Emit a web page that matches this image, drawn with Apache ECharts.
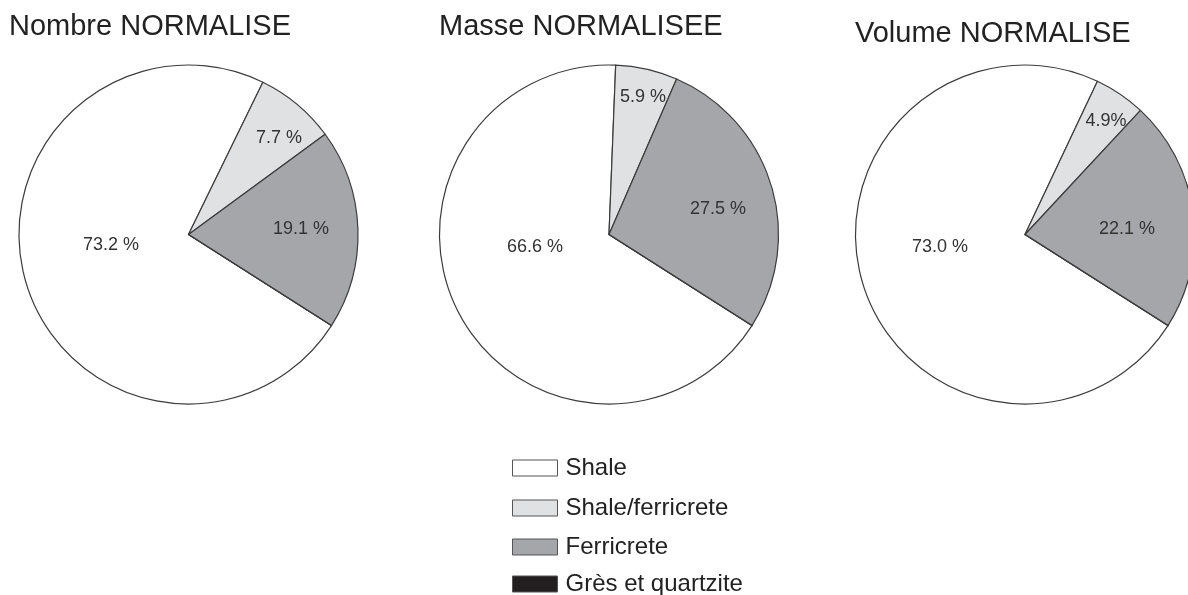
<!DOCTYPE html>
<html>
<head>
<meta charset="utf-8">
<script src="https://cdn.jsdelivr.net/npm/echarts@6/dist/echarts.min.js"></script>
<style>
html,body{margin:0;padding:0;background:#fff;}
#chart{width:1188px;height:595px;}
</style>
</head>
<body>
<div id="chart"></div>
<script>
// ---- data ----
const categories = ['Shale', 'Shale/ferricrete', 'Ferricrete', 'Grès et quartzite'];
const nombreValues = [73.2, 7.7, 19.1, 0];
const masseValues  = [66.6, 5.9, 27.5, 0];
const volumeValues = [73.0, 4.9, 22.1, 0];
const titles = ['Nombre NORMALISE', 'Masse NORMALISEE', 'Volume NORMALISE'];
const labelSeparators = [[' ', ' ', ' '], [' ', ' ', ' '], [' ', '', ' ']];

// ---- layout / style (not data) ----
const colors = ['#ffffff', '#e0e1e3', '#a4a6a9', '#231f20'];
const pieCenters = [[188.5, 234.5], [609, 234.5], [1025, 234.5]];
const pieRadius = 169.5;
const titlePos = [[9, 12], [439, 12], [855, 19]];
const legendTops = [456, 496, 535, 572];
// label offsets from pie centre (px)
const labelOffsets = [
  [[-77.5, 11], [90.5, -96.5], [112.5, -5]],
  [[-74, 12.5], [34, -137.5], [109, -25.5]],
  [[-85, 12.5], [81, -113.5], [102, -5]]
];

const seriesValues = [nombreValues, masseValues, volumeValues];

const chart = echarts.init(document.getElementById('chart'), null, {renderer: 'canvas'});

const series = seriesValues.map((vals, si) => ({
  type: 'pie',
  silent: true,
  animation: false,
  center: pieCenters[si],
  radius: pieRadius,
  startAngle: -32.5,
  clockwise: true,
  avoidLabelOverlap: false,
  data: categories.map((c, i) => ({
    name: c,
    value: vals[i],
    itemStyle: {color: colors[i]}
  })),
  itemStyle: {borderColor: '#3c3c3c', borderWidth: 1.2},
  label: {
    show: true,
    position: 'inside',
    color: '#333',
    fontFamily: 'Liberation Sans, Arial, sans-serif',
    fontSize: 18,
    formatter: (p) => p.value > 0 ? p.value.toFixed(1) + labelSeparators[si][p.dataIndex] + '%' : ''
  },
  labelLine: {show: false},
  labelLayout: (p) => {
    const off = labelOffsets[si][p.dataIndex];
    if (!off) return {};
    return {
      x: pieCenters[si][0] + off[0],
      y: pieCenters[si][1] + off[1],
      align: 'center',
      verticalAlign: 'middle'
    };
  }
}));

const legends = categories.map((c, i) => ({
  orient: 'vertical',
  left: 512,
  top: legendTops[i],
  padding: 0,
  itemWidth: 45,
  itemHeight: 16,
  icon: 'rect',
  selectedMode: false,
  data: [c],
  itemStyle: {borderColor: '#555', borderWidth: 1},
  textStyle: {
    fontFamily: 'Liberation Sans, Arial, sans-serif',
    fontSize: 24,
    color: '#222',
    padding: [0, 0, 0, 3]
  }
}));

const option = {
  backgroundColor: '#ffffff',
  title: titles.map((t, i) => ({
    text: t,
    left: titlePos[i][0],
    top: titlePos[i][1],
    padding: 0,
    textStyle: {
      fontFamily: 'Liberation Sans, Arial, sans-serif',
      fontSize: 29,
      fontWeight: 'normal',
      color: '#222'
    }
  })),
  legend: legends,
  series: series
};

chart.setOption(option);
</script>
</body>
</html>
